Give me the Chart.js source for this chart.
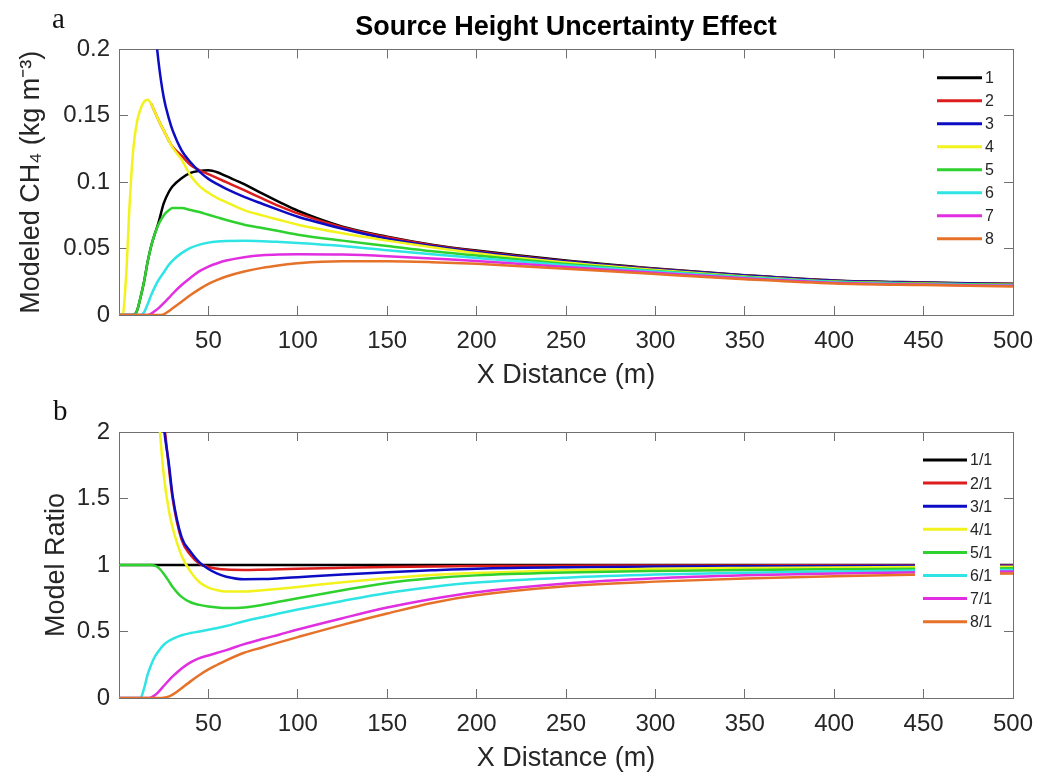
<!DOCTYPE html>
<html lang="en">
<head>
<meta charset="UTF-8">
<title>Source Height Uncertainty Effect</title>
<script src="https://cdn.jsdelivr.net/npm/chart.js@4.4.1/dist/chart.umd.min.js"></script>
<style>
  body { margin: 0; background: #fff; }
  #wrap { position: relative; width: 1037px; height: 776px; overflow: hidden; }
  #wrap canvas { position: absolute; left: 0; }
  #topChart { top: 0; }
  #bottomChart { top: 390px; }
</style>
</head>
<body>
<div id="wrap">
  <canvas id="topChart" width="1037" height="400"></canvas>
  <canvas id="bottomChart" width="1037" height="386"></canvas>
</div>
<script>
// x distance (m), shared by every curve
const xDist = [0, 2, 4, 6, 8, 10, 12, 14, 16, 18, 20, 22, 25, 28, 30, 35, 40, 45, 50, 55,
               60, 70, 80, 90, 100, 125, 150, 175, 200, 250, 300, 350, 400, 450, 500];

// panel a: modeled CH4 (kg m-3), one array per source height
const conc1 = [0, 0, 0, 0, 0, 0.003, 0.013, 0.025, 0.04, 0.052, 0.061, 0.069, 0.084, 0.093, 0.097, 0.103, 0.107, 0.1085, 0.109, 0.1075,
               0.1045, 0.0985, 0.0915, 0.0848, 0.0785, 0.0665, 0.059, 0.053, 0.0485, 0.041, 0.035, 0.030, 0.026, 0.0245, 0.0235];
const conc2 = [null, null, null, null, null, null, null, null, null, 0.159, 0.153, 0.147, 0.139, 0.131, 0.1265, 0.120, 0.113, 0.109, 0.106, 0.103,
               0.1, 0.094, 0.0878, 0.0818, 0.0765, 0.066, 0.0585, 0.0525, 0.048, 0.0405, 0.0347, 0.0298, 0.0258, 0.0243, 0.0233];
const conc3 = [null, null, null, null, null, null, null, null, null, 0.26, 0.22, 0.192, 0.164, 0.1475, 0.139, 0.124, 0.115, 0.108, 0.1025, 0.0985,
               0.095, 0.089, 0.0838, 0.0788, 0.074, 0.065, 0.0575, 0.052, 0.0475, 0.0403, 0.0345, 0.0297, 0.0257, 0.0242, 0.0232];
const conc4 = [0, 0, 0.03, 0.085, 0.125, 0.145, 0.155, 0.1605, 0.162, 0.159, 0.153, 0.147, 0.139, 0.131, 0.126, 0.117, 0.105, 0.097, 0.092, 0.088,
               0.085, 0.079, 0.075, 0.0715, 0.068, 0.0615, 0.056, 0.051, 0.0465, 0.0395, 0.0338, 0.029, 0.0252, 0.0237, 0.0227];
const conc5 = [0, 0, 0, 0, 0, 0.003, 0.013, 0.025, 0.04, 0.052, 0.061, 0.068, 0.075, 0.079, 0.0805, 0.0805, 0.079, 0.0775, 0.0755, 0.0735,
               0.0715, 0.068, 0.0655, 0.063, 0.0605, 0.056, 0.052, 0.048, 0.0448, 0.0385, 0.0332, 0.0287, 0.025, 0.0235, 0.0226];
const conc6 = [0, 0, 0, 0, 0, 0, 0, 0.002, 0.008, 0.015, 0.021, 0.026, 0.032, 0.038, 0.041, 0.0466, 0.0505, 0.053, 0.0545, 0.0553,
               0.0557, 0.0559, 0.0556, 0.055, 0.0543, 0.052, 0.0487, 0.0457, 0.043, 0.0375, 0.0327, 0.0283, 0.0247, 0.0232, 0.0223];
const conc7 = [0, 0, 0, 0, 0, 0, 0, 0, 0, 0.001, 0.003, 0.005, 0.009, 0.013, 0.016, 0.0226, 0.028, 0.033, 0.0365, 0.039,
               0.041, 0.0435, 0.045, 0.0456, 0.0458, 0.0455, 0.0443, 0.0425, 0.0407, 0.0362, 0.0318, 0.0277, 0.0243, 0.0229, 0.022];
const conc8 = [0, 0, 0, 0, 0, 0, 0, 0, 0, 0, 0, 0, 0.0005, 0.003, 0.005, 0.010, 0.015, 0.0195, 0.0235, 0.0265,
               0.029, 0.0327, 0.0355, 0.0375, 0.039, 0.0405, 0.0405, 0.0398, 0.0385, 0.0348, 0.0308, 0.027, 0.0238, 0.0225, 0.0215];

// panel b: model ratio to height 1
const ratio1 = [1, 1, 1, 1, 1, 1, 1, 1, 1, 1, 1, 1, 1, 1, 1, 1, 1, 1, 1, 1,
                1, 1, 1, 1, 1, 1, 1, 1, 1, 1, 1, 1, 1, 1, 1];
const ratio2 = [null, null, null, null, null, null, null, null, null, null, null, null, 2.1, 1.72, 1.5, 1.19, 1.075, 1.01, 0.985, 0.972,
                0.966, 0.963, 0.965, 0.968, 0.972, 0.979, 0.985, 0.989, 0.992, 0.995, 0.996, 0.997, 0.998, 0.998, 0.998];
const ratio3 = [null, null, null, null, null, null, null, null, null, null, 3.0, 2.6, 2.05, 1.75, 1.52, 1.21, 1.10, 1.02, 0.97, 0.935,
                0.912, 0.893, 0.894, 0.90, 0.908, 0.928, 0.946, 0.96, 0.972, 0.983, 0.988, 0.991, 0.993, 0.994, 0.995];
const ratio4 = [null, null, null, null, null, null, null, null, null, null, null, 2.15, 1.68, 1.40, 1.28, 1.07, 0.95, 0.87, 0.83, 0.81,
                0.80, 0.80, 0.81, 0.822, 0.835, 0.87, 0.90, 0.925, 0.94, 0.96, 0.972, 0.978, 0.982, 0.985, 0.987];
const ratio5 = [1, 1, 1, 1, 1, 1, 1, 1, 1, 1, 0.995, 0.98, 0.935, 0.875, 0.835, 0.76, 0.72, 0.70, 0.688, 0.68,
                0.676, 0.68, 0.70, 0.725, 0.75, 0.81, 0.865, 0.90, 0.922, 0.943, 0.955, 0.963, 0.968, 0.972, 0.975];
const ratio6 = [0, 0, 0, 0, 0, 0, 0, 0.07, 0.175, 0.25, 0.31, 0.35, 0.40, 0.43, 0.445, 0.472, 0.488, 0.50, 0.513, 0.527,
                0.542, 0.577, 0.607, 0.637, 0.665, 0.73, 0.79, 0.835, 0.868, 0.905, 0.928, 0.942, 0.951, 0.958, 0.963];
const ratio7 = [0, 0, 0, 0, 0, 0, 0, 0, 0, 0.005, 0.02, 0.045, 0.09, 0.135, 0.162, 0.222, 0.268, 0.30, 0.32, 0.34,
                0.36, 0.405, 0.443, 0.478, 0.515, 0.60, 0.68, 0.745, 0.795, 0.86, 0.90, 0.923, 0.937, 0.946, 0.952];
const ratio8 = [0, 0, 0, 0, 0, 0, 0, 0, 0, 0, 0, 0, 0.002, 0.012, 0.025, 0.073, 0.125, 0.173, 0.215, 0.25,
                0.283, 0.34, 0.38, 0.42, 0.458, 0.55, 0.635, 0.715, 0.772, 0.84, 0.875, 0.898, 0.915, 0.928, 0.937];

const concLabels = ['1', '2', '3', '4', '5', '6', '7', '8'];
const ratioLabels = ['1/1', '2/1', '3/1', '4/1', '5/1', '6/1', '7/1', '8/1'];
const xTicks = [50, 100, 150, 200, 250, 300, 350, 400, 450, 500];

const colors = ['#000000', '#dd1c1c', '#0c0cc4', '#f2f21c', '#2ed12e', '#2ee4e4', '#e02ee0', '#e6722a'];
const font = "'Liberation Sans', Arial, sans-serif";
const axisGrey = '#707070';
const textGrey = '#262626';

function makeSets(labels, series) {
  return series.map((vals, i) => ({
    label: labels[i],
    data: vals.map((v, k) => ({ x: xDist[k], y: v })),
    borderColor: colors[i],
    borderWidth: 2.5,
    pointRadius: 0,
    cubicInterpolationMode: 'monotone',
    fill: false,
    order: series.length - i   // later curves on top, like the original
  }));
}

const fmt = v => String(+Number(v).toFixed(3));

function scalesFor(o) {
  return {
    x: {
      type: 'linear', position: 'bottom', min: 0, max: 500,
      border: { color: axisGrey, width: 1 },
      grid: { drawOnChartArea: false, tickLength: -9, color: axisGrey },
      ticks: { stepSize: 50, padding: 21, color: textGrey, maxRotation: 0, autoSkip: false,
               font: { family: font, size: 24 },
               callback: v => xTicks.includes(v) ? String(v) : '' },
      title: { display: true, text: 'X Distance (m)', color: textGrey,
               font: { family: font, size: 27 }, padding: { top: 0, bottom: o.xTitlePad } },
      afterFit: s => { s.height = o.xHeight; s.paddingLeft = 0; s.paddingRight = 0; }
    },
    xTop: {
      type: 'linear', position: 'top', min: 0, max: 500,
      border: { color: axisGrey, width: 1 },
      grid: { drawOnChartArea: false, tickLength: -9, color: axisGrey },
      ticks: { stepSize: 50, display: false },
      afterFit: s => { s.height = 0; s.paddingLeft = 0; s.paddingRight = 0; }
    },
    y: {
      type: 'linear', position: 'left', min: 0, max: o.yMax,
      border: { color: axisGrey, width: 1 },
      grid: { drawOnChartArea: false, tickLength: -9, color: axisGrey },
      ticks: { stepSize: o.yStep, padding: 18, color: textGrey, font: { family: font, size: 24 }, callback: fmt },
      title: { display: true, text: o.yTitle, color: textGrey,
               font: { family: font, size: 27 }, padding: { top: o.yTitlePad, bottom: 0 } },
      afterFit: s => { s.width = 119; }
    },
    yRight: {
      type: 'linear', position: 'right', min: 0, max: o.yMax,
      border: { color: axisGrey, width: 1 },
      grid: { drawOnChartArea: false, tickLength: -9, color: axisGrey },
      ticks: { stepSize: o.yStep, display: false },
      afterFit: s => { s.width = 0; }
    }
  };
}

// legend drawn inside the axes, top right, with a white backing
const insideLegend = {
  id: 'insideLegend',
  afterDatasetsDraw(chart, args, opts) {
    const { ctx, chartArea: a } = chart;
    ctx.save();
    ctx.fillStyle = '#ffffff';
    ctx.fillRect(a.right - opts.boxLeft, a.top + opts.boxTop, opts.boxLeft - opts.boxRight, opts.boxHeight);
    ctx.font = '16px ' + font;
    ctx.textBaseline = 'middle';
    chart.data.datasets.forEach((ds, i) => {
      const y = a.top + opts.firstRow + i * opts.rowStep;
      ctx.strokeStyle = ds.borderColor;
      ctx.lineWidth = 3;
      ctx.beginPath();
      ctx.moveTo(a.right - opts.lineStart, y);
      ctx.lineTo(a.right - opts.lineEnd, y);
      ctx.stroke();
      ctx.fillStyle = textGrey;
      ctx.fillText(ds.label, a.right - opts.lineEnd + 3, y + 1);
    });
    ctx.restore();
  }
};

// panel letter (a / b)
const panelTag = {
  id: 'panelTag',
  afterDraw(chart, args, opts) {
    const ctx = chart.ctx;
    ctx.save();
    ctx.font = "29px 'Liberation Serif', 'Times New Roman', serif";
    ctx.fillStyle = '#111';
    ctx.textBaseline = 'alphabetic';
    ctx.fillText(opts.text, opts.x, opts.y);
    ctx.restore();
  }
};

new Chart(document.getElementById('topChart'), {
  type: 'line',
  data: { datasets: makeSets(concLabels, [conc1, conc2, conc3, conc4, conc5, conc6, conc7, conc8]) },
  plugins: [insideLegend, panelTag],
  options: {
    responsive: false,
    animation: false,
    layout: { padding: { left: 0, right: 24, top: 0, bottom: 0 } },
    scales: scalesFor({ yMax: 0.2, yStep: 0.05, yTitle: 'Modeled CH\u2084 (kg m\u207B\u00B3)',
                        yTitlePad: 15, xHeight: 85, xTitlePad: 8 }),
    plugins: {
      legend: { display: false },
      tooltip: { enabled: false },
      title: {
        display: true, fullSize: false,
        text: 'Source Height Uncertainty Effect',
        color: '#000',
        font: { family: font, size: 27, weight: 'bold' },
        padding: { top: 11, bottom: 6 }
      },
      insideLegend: { boxLeft: 84, boxRight: 10, boxTop: 12, boxHeight: 194,
                      lineStart: 76, lineEnd: 31, firstRow: 28.3, rowStep: 23 },
      panelTag: { text: 'a', x: 52, y: 28 }
    }
  }
});

new Chart(document.getElementById('bottomChart'), {
  type: 'line',
  data: { datasets: makeSets(ratioLabels, [ratio1, ratio2, ratio3, ratio4, ratio5, ratio6, ratio7, ratio8]) },
  plugins: [insideLegend, panelTag],
  options: {
    responsive: false,
    animation: false,
    layout: { padding: { left: 0, right: 24, top: 42, bottom: 0 } },
    scales: scalesFor({ yMax: 2, yStep: 0.5, yTitle: 'Model Ratio',
                        yTitlePad: 40, xHeight: 78, xTitlePad: 1 }),
    plugins: {
      legend: { display: false },
      tooltip: { enabled: false },
      insideLegend: { boxLeft: 98, boxRight: 13, boxTop: 12, boxHeight: 196,
                      lineStart: 90, lineEnd: 46, firstRow: 28, rowStep: 23.1 },
      panelTag: { text: 'b', x: 53, y: 30 }
    }
  }
});
</script>
</body>
</html>
